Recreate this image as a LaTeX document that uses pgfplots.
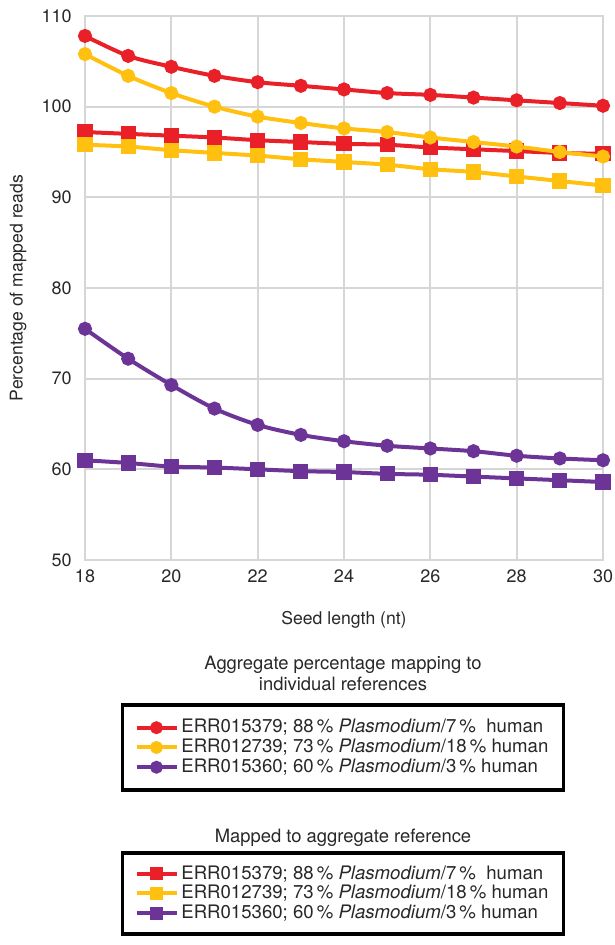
\documentclass[border=0pt]{standalone}
\usepackage{fontspec}
\setmainfont{TeX Gyre Heros}
\usepackage{pgfplots}
\pgfplotsset{compat=1.18}
\definecolor{exred}{RGB}{234,32,40}
\definecolor{exyellow}{RGB}{255,192,16}
\definecolor{expurple}{RGB}{108,52,150}
\definecolor{gridgray}{RGB}{214,214,214}
\definecolor{txt}{RGB}{40,40,40}

\pgfplotsset{
  common/.style={
    at={(0,0)}, anchor=south west,
    width=259pt, height=272pt, scale only axis,
    xmin=18, xmax=30, ymin=50, ymax=110,
    xtick={18,20,...,30}, ytick={50,60,...,110},
    clip=false,
    legend cell align=left,
    legend image code/.code={
      \draw[mark repeat=2,mark phase=2,mark size=2.2pt] plot coordinates {(0cm,0cm) (0.35cm,0cm) (0.7cm,0cm)};},
    legend style={draw=black, line width=1.8pt, anchor=north,
      font=\fontsize{9.3}{10.5}\selectfont, text=txt,
      inner xsep=6pt, inner ysep=6pt, row sep=-1pt,
      nodes={inner xsep=1.5pt, inner ysep=1.3pt}},
  },
  ser/.style={line width=2pt, smooth, color=#1, mark options={solid, fill=#1, draw=#1}},
}

\begin{document}
\begin{tikzpicture}
% mapped to aggregate reference (squares), with grid and labels
\begin{axis}[common,
  grid=major, grid style={gridgray, line width=0.9pt},
  axis line style={gridgray, line width=0.9pt},
  major tick length=0pt,
  tick label style={font=\fontsize{9}{10}\selectfont, text=txt},
  /pgf/number format/assume math mode=true,
  yticklabel style={xshift=-3.2pt},
  xticklabel style={yshift=-1.5pt},
  xlabel={Seed length (nt)}, ylabel={Percentage of mapped reads},
  label style={font=\fontsize{8.8}{10}\selectfont, text=txt},
  xlabel style={at={([yshift=-30pt]axis description cs:0.5,0)}, anchor=center},
  ylabel style={at={([xshift=-33.5pt]axis description cs:0,0.5)}, anchor=center},
  legend style={at={(0.498,-0.535)}, inner ysep=5pt},
]
\addplot[ser=exred, mark=square*, mark size=2.8pt] coordinates {
  (18,97.2) (19,97.0) (20,96.8) (21,96.6) (22,96.3) (23,96.1) (24,95.9)
  (25,95.8) (26,95.5) (27,95.3) (28,95.1) (29,94.9) (30,94.8)};
\addlegendentry{ERR015379; 88\,\% \textit{Plasmodium}/7\,\%\ \ human}
\addplot[ser=exyellow, mark=square*, mark size=2.8pt] coordinates {
  (18,95.8) (19,95.6) (20,95.2) (21,94.9) (22,94.6) (23,94.2) (24,93.9)
  (25,93.6) (26,93.1) (27,92.8) (28,92.3) (29,91.8) (30,91.3)};
\addlegendentry{ERR012739; 73\,\% \textit{Plasmodium}/18\,\% human}
\addplot[ser=expurple, mark=square*, mark size=2.8pt] coordinates {
  (18,61.0) (19,60.7) (20,60.3) (21,60.2) (22,60.0) (23,59.8) (24,59.7)
  (25,59.5) (26,59.4) (27,59.2) (28,59.0) (29,58.8) (30,58.6)};
\addlegendentry{ERR015360; 60\,\% \textit{Plasmodium}/3\,\% human}
\end{axis}

% aggregate percentage mapping to individual references (circles)
\begin{axis}[common, hide axis,
  legend style={at={(0.498,-0.2629)}},
]
\addplot[ser=exred, mark=*, mark size=2.5pt] coordinates {
  (18,107.8) (19,105.6) (20,104.4) (21,103.4) (22,102.7) (23,102.3) (24,101.9)
  (25,101.5) (26,101.3) (27,101.0) (28,100.7) (29,100.4) (30,100.1)};
\addlegendentry{ERR015379; 88\,\% \textit{Plasmodium}/7\,\%\ \ human}
\addplot[ser=exyellow, mark=*, mark size=2.5pt] coordinates {
  (18,105.8) (19,103.4) (20,101.5) (21,100.0) (22,98.9) (23,98.2) (24,97.6)
  (25,97.2) (26,96.6) (27,96.1) (28,95.6) (29,95.0) (30,94.5)};
\addlegendentry{ERR012739; 73\,\% \textit{Plasmodium}/18\,\% human}
\addplot[ser=expurple, mark=*, mark size=2.5pt] coordinates {
  (18,75.5) (19,72.2) (20,69.3) (21,66.7) (22,64.9) (23,63.8) (24,63.1)
  (25,62.6) (26,62.3) (27,62.0) (28,61.5) (29,61.2) (30,61.0)};
\addlegendentry{ERR015360; 60\,\% \textit{Plasmodium}/3\,\% human}
\end{axis}

\node[align=center, text=txt, font=\fontsize{9.2}{10.5}\selectfont] at (129pt,-56.75pt)
  {Aggregate percentage mapping to\\individual references};
\node[text=txt, font=\fontsize{9.2}{10.5}\selectfont] at (129pt,-139pt)
  {Mapped to aggregate reference};

\pgfresetboundingbox
\path (-42.5pt,-192.5pt) rectangle (264.5pt,280pt);
\end{tikzpicture}
\end{document}
